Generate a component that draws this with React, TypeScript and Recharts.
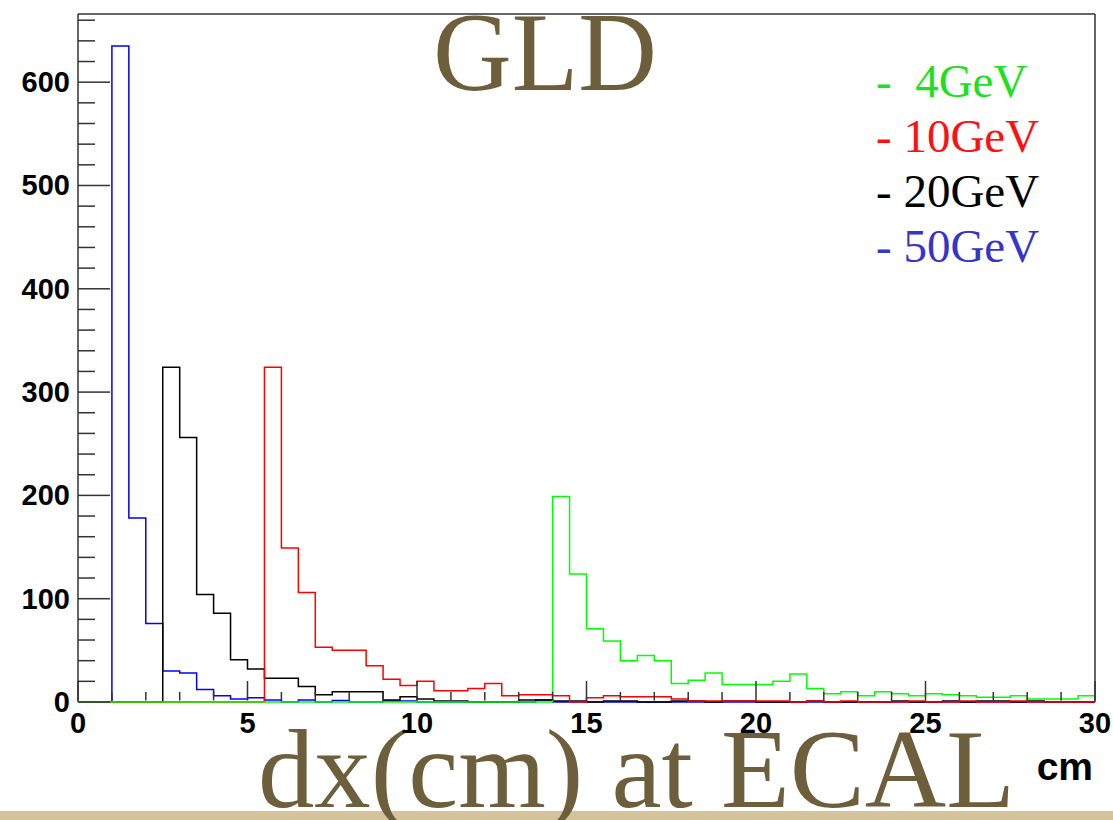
import { ComposedChart, Line, XAxis, YAxis, Legend, ReferenceLine } from 'recharts'

// histogram bins are 0.5 cm wide, 0..30 cm
const BIN = 0.5

const blue50 = [
  0, 0, 635, 178, 76, 30, 28, 12, 6, 3,
  4, 2, 0, 2, 0, 1.5, 0, 0, 1, 1,
  0, 0, 0, 0, 0, 0, 0, 2, 0, 0,
  0, 0, 0, 0, 0, 0, 0, 0, 0, 0,
  0, 0, 0, 0, 0, 0, 0, 0, 0, 0,
  0, 0, 0, 0, 0, 0, 0, 0, 0, 0,
]
const black20 = [
  0, 0, 0, 0, 0, 324, 256, 104, 86, 41,
  32, 23, 23, 15, 7, 10, 10, 10, 2, 5,
  3, 1, 1, 0, 0, 0, 2, 2, 1, 1,
  0, 1, 1, 0, 0, 1, 1, 0, 1, 1,
  0, 0, 0, 1, 0, 0, 0, 0, 1, 0,
  0, 1, 0, 1, 1, 0, 1, 0, 0, 0,
]
const red10 = [
  0, 0, 0, 0, 0, 0, 0, 0, 0, 0,
  0, 324, 149, 106, 53, 50, 50, 35, 22, 16,
  20, 11, 11, 13, 18, 6, 7, 7, 6, 0,
  4, 6, 5, 5, 5, 3, 1, 1, 1, 1,
  1, 1, 0, 1, 0, 1, 0, 0, 0, 1,
  0, 0, 1, 0, 0, 1, 0, 0, 0, 0,
]
const green4 = [
  0, 0, 0, 0, 0, 0, 0, 0, 0, 0,
  0, 0, 0, 0, 0, 0, 0, 0, 0, 0,
  0, 0, 0, 0, 0, 0, 0, 0, 199, 124,
  71, 59, 40, 45, 40, 18, 21, 28, 17, 17,
  17, 20, 27, 13, 8, 10, 6, 10, 8, 6,
  8, 7, 6, 4.5, 4.5, 6, 3, 3, 3, 6,
]

const xTicks = [
  0, 1, 2, 3, 4, 5, 6, 7, 8, 9, 10, 11, 12, 13, 14, 15,
  16, 17, 18, 19, 20, 21, 22, 23, 24, 25, 26, 27, 28, 29, 30,
]
const yTicks = [
  0, 20, 40, 60, 80, 100, 120, 140, 160, 180, 200, 220, 240, 260, 280, 300, 320,
  340, 360, 380, 400, 420, 440, 460, 480, 500, 520, 540, 560, 580, 600, 620, 640, 660,
]
const xMax = 30
const yMax = 666

const legendOrder = ['4GeV', '10GeV', '20GeV', '50GeV']
const legendText: Record<string, string> = {
  '4GeV': '#1fe01f',
  '10GeV': '#ff1010',
  '20GeV': '#000000',
  '50GeV': '#3535c8',
}

// one row per bin edge; last edge repeats the last bin so the step reaches 30
const rows = blue50.map((_, i) => ({
  x: i * BIN,
  blue: blue50[i],
  black: black20[i],
  red: red10[i],
  green: green4[i],
}))
const last = blue50.length - 1
rows.push({
  x: blue50.length * BIN,
  blue: blue50[last],
  black: black20[last],
  red: red10[last],
  green: green4[last],
})

const axisFont = '"Liberation Sans", Arial, sans-serif'
const serif = '"Liberation Serif", "Times New Roman", serif'
const brown = '#6d5f3b'
const frame = { stroke: '#333', strokeWidth: 1.5 }

function XTick(props: any) {
  const { x, y, payload } = props
  const major = payload.value % 5 === 0
  return (
    <g>
      <line x1={x} x2={x} y1={y - 1.5} y2={y - (major ? 21 : 10)} stroke="#333" strokeWidth={1.5} />
      {major && (
        <text x={x} y={y + 31} textAnchor="middle" fontFamily={axisFont} fontWeight="bold" fontSize={29} fill="#000">
          {payload.value}
        </text>
      )}
    </g>
  )
}

function YTick(props: any) {
  const { x, y, payload } = props
  const major = payload.value % 100 === 0
  return (
    <g>
      <line x1={x} x2={x + (major ? 32 : 17)} y1={y} y2={y} stroke="#333" strokeWidth={1.5} />
      {major && (
        <text x={x - 8} y={y + 10} textAnchor="end" fontFamily={axisFont} fontWeight="bold" fontSize={29} fill="#000">
          {payload.value}
        </text>
      )}
    </g>
  )
}

function EnergyLegend({ payload }: { payload?: Array<{ value: string }> }) {
  const items = [...(payload ?? [])].sort(
    (a, b) => legendOrder.indexOf(a.value) - legendOrder.indexOf(b.value),
  )
  return (
    <div style={{ fontFamily: serif, fontSize: 47, lineHeight: '55px', whiteSpace: 'pre' }}>
      {items.map((it) => (
        <div key={it.value} style={{ color: legendText[it.value] }}>
          {it.value === '4GeV' ? '-  4GeV' : `- ${it.value}`}
        </div>
      ))}
    </div>
  )
}

export default function App() {
  return (
    <div style={{ position: 'absolute', left: 0, top: 0, width: 1113, height: 820, background: '#fff' }}>
      <div style={{ position: 'absolute', left: 0, top: 811, width: 1113, height: 9, background: '#d5c49b' }} />
      <div style={{ position: 'absolute', left: 0, top: 0 }}>
        <ComposedChart width={1113} height={820} data={rows} margin={{ top: 14, right: 18, bottom: 0, left: 0 }}>
          <text x={545} y={90} textAnchor="middle" fontFamily={serif} fontSize={113} fill={brown} textLength={224} lengthAdjust="spacingAndGlyphs">
            GLD
          </text>
          <text x={258} y={807} fontFamily={serif} fontSize={112} fill={brown} textLength={757} lengthAdjust="spacingAndGlyphs">
            dx(cm) at ECAL
          </text>
          <text x={1093} y={780} textAnchor="end" fontFamily={axisFont} fontWeight="bold" fontSize={39} fill="#000">
            cm
          </text>
          <XAxis
            dataKey="x"
            type="number"
            domain={[0, xMax]}
            ticks={xTicks}
            interval={0}
            height={118}
            tickSize={0}
            tickMargin={0}
            axisLine={false}
            tickLine={false}
            tick={(p: any) => <XTick {...p} />}
          />
          <YAxis
            type="number"
            domain={[0, yMax]}
            ticks={yTicks}
            interval={0}
            width={78}
            tickSize={0}
            tickMargin={0}
            axisLine={frame}
            tickLine={false}
            tick={(p: any) => <YTick {...p} />}
          />
          <ReferenceLine y={yMax} stroke={frame.stroke} strokeWidth={frame.strokeWidth} />
          <ReferenceLine x={xMax} stroke={frame.stroke} strokeWidth={frame.strokeWidth} />
          <Legend
            layout="vertical"
            align="center"
            verticalAlign="middle"
            wrapperStyle={{ left: 876, top: 54, width: 'auto' }}
            content={(p: any) => <EnergyLegend payload={p.payload} />}
          />
          <Line name="50GeV" type="stepAfter" dataKey="blue" stroke="#0000ff" strokeWidth={1.5} dot={false} activeDot={false} zIndex={700} isAnimationActive={false} />
          <Line name="20GeV" type="stepAfter" dataKey="black" stroke="#000000" strokeWidth={1.5} dot={false} activeDot={false} zIndex={701} isAnimationActive={false} />
          <Line name="10GeV" type="stepAfter" dataKey="red" stroke="#ff0000" strokeWidth={1.5} dot={false} activeDot={false} zIndex={702} isAnimationActive={false} />
          <Line name="4GeV" type="stepAfter" dataKey="green" stroke="#00ff00" strokeWidth={1.5} dot={false} activeDot={false} zIndex={703} isAnimationActive={false} />
        </ComposedChart>
      </div>
    </div>
  )
}
